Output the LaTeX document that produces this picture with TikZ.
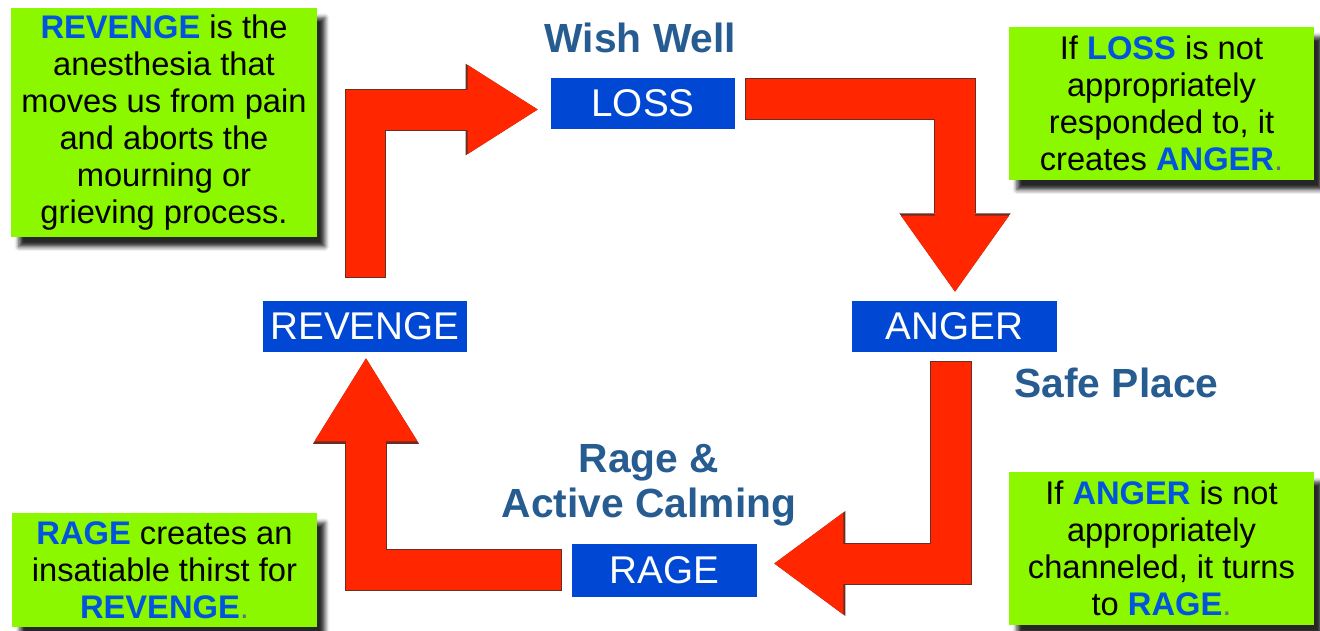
\documentclass[tikz,border=0pt]{standalone}
\usepackage{fontspec}
\setmainfont{Liberation Sans}
\usetikzlibrary{arrows.meta,calc,shadows.blur}

\definecolor{stageblue}{RGB}{0,72,212}
\definecolor{wordblue}{RGB}{0,84,222}
\definecolor{headblue}{RGB}{39,92,145}
\definecolor{notegreen}{RGB}{140,248,0}
\definecolor{arrowred}{RGB}{255,38,0}
\definecolor{arrowedge}{RGB}{105,45,35}
\definecolor{dotgrey}{RGB}{100,110,135}

\newcommand{\keyword}[1]{\textcolor{wordblue}{\bfseries #1}}
\newcommand{\dotp}{\textcolor{dotgrey}{.}}

\begin{document}
\begin{tikzpicture}[x=0.02cm, y=-0.02cm,
    stage/.style={fill=stageblue, text=white, inner sep=0pt, minimum height=1.02cm, font=\fontsize{22}{26}\selectfont},
    note/.style={fill=notegreen, inner sep=0pt, align=center, font=\fontsize{18.6}{21}\selectfont,
        blur shadow={shadow xshift=4.5pt, shadow yshift=-5.5pt, shadow blur radius=2.5pt, shadow opacity=85}},
    phase/.style={text=headblue, inner sep=0pt, align=center, font=\fontsize{23.2}{25.5}\selectfont\bfseries},
    flow/.style 2 args={draw=arrowred, line width=0.8cm, -{Triangle[length=#1, width=#2, line width=0pt]},
        preaction={draw=arrowedge, line width=0.84cm, shorten <=-0.02cm,
            -{Triangle[length=#1, width=#2, line width=0pt, scale=1.03]}}}]
    \useasboundingbox (0,0) rectangle (1320,630);

    % Side notes with shadow
    \node[note, minimum width=6.12cm, minimum height=4.58cm] (noterevenge) at (164,122.5)
        {\keyword{REVENGE} is the\\anesthesia that\\moves us from pain\\and aborts the\\mourning or\\grieving process.};
    \node[note, minimum width=6.1cm, minimum height=3.06cm] (noteloss) at (1161.5,103.5)
        {If \keyword{LOSS} is not\\appropriately\\responded to, it\\creates \keyword{ANGER}\dotp};
    \node[note, minimum width=6.1cm, minimum height=3.06cm] (noteanger) at (1161.5,548.5)
        {If \keyword{ANGER} is not\\appropriately\\channeled, it turns\\to \keyword{RAGE}\dotp};
    \node[note, minimum width=6.1cm, minimum height=2.28cm] (noterage) at (164.5,570)
        {\keyword{RAGE} creates an\\insatiable thirst for\\\keyword{REVENGE}\dotp};

    % The four stages of the cycle
    \node[stage, minimum width=3.68cm] (loss) at (643,103.5) {LOSS};
    \node[stage, minimum width=4.1cm] (anger) at (954.5,326.5) {ANGER};
    \node[stage, minimum width=3.7cm, minimum height=1.06cm] (rage) at (664.5,570.5) {RAGE};
    \node[stage, minimum width=4.08cm] (revenge) at (365,326.5) {REVENGE};

    % Headings next to the stages
    \node[phase, anchor=base] (wishwell) at (640.5,52) {Wish Well};
    \node[phase, anchor=base] (safeplace) at (1116.5,397) {Safe Place};
    \node[phase, anchor=north] (calming) at (649,444) {Rage \&\\Active Calming};

    % Bent arrows round the cycle
    \draw[flow={1.4cm}{1.78cm}] ($(revenge.north)+(0.5,-24)$) |- ($(loss.west)+(-13,6)$);
    \draw[flow={1.52cm}{2.16cm}] ($(loss.east)+(11,-5)$) -| ($(anger.north)+(0.5,-9)$);
    \draw[flow={1.38cm}{2.04cm}] ($(anger.south)+(-4,10)$) |- ($(rage.east)+(17,-7)$);
    \draw[flow={1.66cm}{2.06cm}] ($(rage.west)+(-11,-1)$) -| ($(revenge.south)+(1,6)$);
\end{tikzpicture}
\end{document}
